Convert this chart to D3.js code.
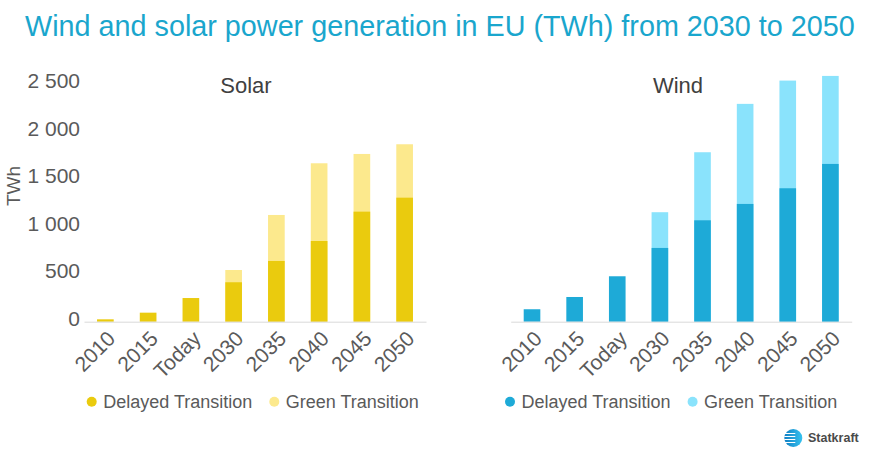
<!DOCTYPE html>
<html><head><meta charset="utf-8">
<script src="https://cdn.jsdelivr.net/npm/d3@7"></script>
<style>body{margin:0;background:#fff} svg{display:block}</style></head>
<body>
<svg id="c" width="877" height="458"></svg>
<script>
const categories = ["2010","2015","Today","2030","2035","2040","2045","2050"];
// totals per scenario (TWh)
const solarDelayed = [25,95,249,415,639,849,1158,1305];
const solarGreen   = [null,null,null,544,1123,1667,1765,1867];
const windDelayed  = [131,260,478,776,1067,1239,1404,1660];
const windGreen    = [null,null,null,1152,1783,2292,2537,2586];
const yTicks = [0,500,1000,1500,2000,2500];
const seriesNames = ["Delayed Transition","Green Transition"];
const titleText = "Wind and solar power generation in EU (TWh) from 2030 to 2050";

const FONT = "'Liberation Sans', Arial, sans-serif";
const svg = d3.select("#c");
const fmt = d3.formatLocale({decimal:".", thousands:" ", grouping:[3], currency:["",""]}).format(",");

const y = d3.scaleLinear().domain([0,2500]).range([321.7,84.1]);

// title
const t = svg.append("text").attr("x",25).attr("y",35.5)
  .attr("font-family",FONT).attr("font-size",27).attr("fill","#1aa6cd").text(titleText);
const tw = t.node().getComputedTextLength();
t.attr("font-size", 27*830/tw);

// y axis labels
svg.append("g").selectAll("text").data(yTicks).join("text")
  .attr("x",80).attr("y",d=>y(d)-3.4).attr("dy","0.35em")
  .attr("text-anchor","end").attr("font-family",FONT).attr("font-size",21)
  .attr("fill","#5a5a5a").text(d=>fmt(d));
svg.append("text").attr("transform",`translate(13,186) rotate(-90)`)
  .attr("text-anchor","middle").attr("dy","0.35em").attr("font-family",FONT)
  .attr("font-size",19).attr("fill","#5a5a5a").text("TWh");

function panel(x0,x1,name,titleX,delayed,green,cD,cG,legX){
  const x = d3.scaleBand().domain(categories).range([x0,x1]).paddingInner(0.61).paddingOuter(0.305);
  const g = svg.append("g");
  g.selectAll("rect.g").data(categories.map((c,i)=>({c,v:green[i]})).filter(d=>d.v!=null)).join("rect")
    .attr("x",d=>x(d.c)).attr("width",x.bandwidth()).attr("y",d=>y(d.v)).attr("height",d=>y(0)-y(d.v)).attr("fill",cG);
  g.selectAll("rect.d").data(categories.map((c,i)=>({c,v:delayed[i]}))).join("rect")
    .attr("x",d=>x(d.c)).attr("width",x.bandwidth()).attr("y",d=>y(d.v)).attr("height",d=>y(0)-y(d.v)).attr("fill",cD);
  const ax = svg.append("g").attr("transform",`translate(0,${y(0)})`)
    .call(d3.axisBottom(x).tickSize(0).tickSizeOuter(0));
  ax.select(".domain").attr("stroke","#d9d9d9").attr("stroke-width",1);
  ax.selectAll("text").attr("x",0).attr("y",0).attr("dy","0.35em")
    .attr("transform","translate(6,13) rotate(-45)").attr("text-anchor","end")
    .attr("font-family",FONT).attr("font-size",21).attr("fill","#5a5a5a");
  svg.append("text").attr("x",titleX).attr("y",85).attr("dy","0.35em").attr("text-anchor","middle")
    .attr("font-family",FONT).attr("font-size",22).attr("fill","#404040").text(name);
  // legend
  const lg = svg.append("g").attr("transform",`translate(${legX},401.7)`);
  const items = [{n:seriesNames[0],c:cD},{n:seriesNames[1],c:cG}];
  let cx = 0;
  items.forEach(it=>{
    lg.append("circle").attr("cx",cx).attr("cy",0).attr("r",5).attr("fill",it.c);
    const tx = lg.append("text").attr("x",cx+11.5).attr("y",0).attr("dy","0.35em")
      .attr("font-family",FONT).attr("font-size",18).attr("fill","#5a5a5a").text(it.n);
    cx += 11.5 + tx.node().getComputedTextLength() + 22;
  });
}
panel(84,426,"Solar",246,solarDelayed,solarGreen,"#eacb0e","#fce98d",91.7);
panel(510.7,851.7,"Wind",678,windDelayed,windGreen,"#1eaad7","#8ae3fc",510);

// logo
const logo = svg.append("g").attr("transform","translate(793.3,438)");
const grad = svg.append("defs").append("linearGradient").attr("id","lg").attr("x1","0").attr("x2","1");
grad.append("stop").attr("offset","0").attr("stop-color","#0f7fc4");
grad.append("stop").attr("offset","1").attr("stop-color","#36c2ef");
logo.append("circle").attr("r",9).attr("fill","url(#lg)");
[-4.5,-1.5,1.5,4.5].forEach(dy=>logo.append("rect").attr("x",-9).attr("y",dy-0.5).attr("width",11).attr("height",1).attr("fill","#fff"));
svg.append("text").attr("x",808).attr("y",438).attr("dy","0.35em").attr("font-family",FONT)
  .attr("font-size",12.5).attr("font-weight","bold").attr("fill","#4a4a4a").text("Statkraft");
</script>
</body></html>
